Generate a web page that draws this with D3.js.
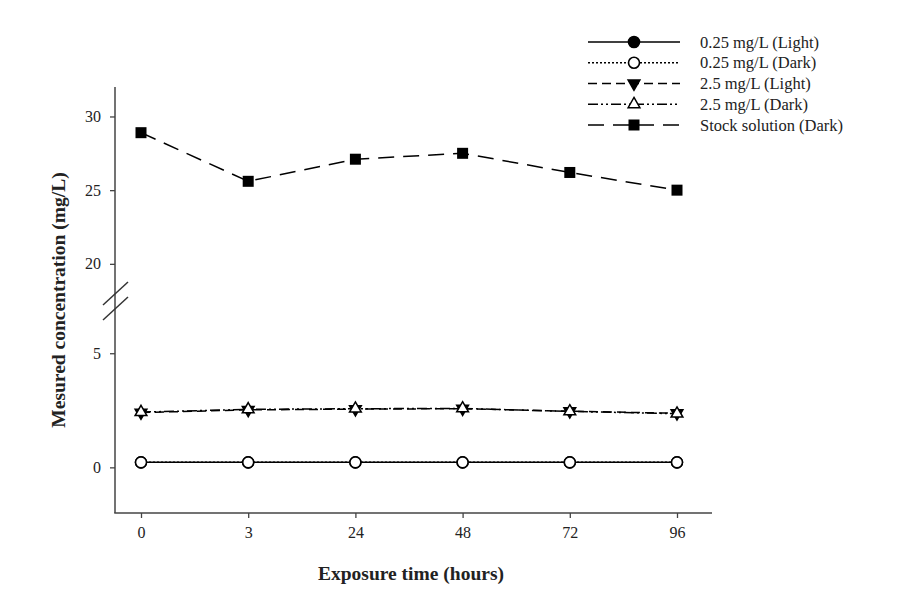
<!DOCTYPE html>
<html><head><meta charset="utf-8">
<script src="https://cdn.jsdelivr.net/npm/d3@7"></script>
<style>body{margin:0;background:#fff}svg{display:block}text{font-family:"Liberation Serif","Times New Roman",serif}</style>
</head><body><svg id="c" width="924" height="594"></svg>
<script>
const categories = ["0","3","24","48","72","96"];
const low_light = [0.22,0.22,0.22,0.22,0.22,0.22];
const low_dark = [0.22,0.22,0.22,0.22,0.22,0.22];
const high_light = [2.40,2.52,2.55,2.57,2.46,2.37];
const high_dark = [2.42,2.54,2.57,2.58,2.45,2.35];
const stock_dark = [28.9,25.6,27.1,27.5,26.2,25.0];
const seriesNames = ["0.25 mg/L (Light)","0.25 mg/L (Dark)","2.5 mg/L (Light)","2.5 mg/L (Dark)","Stock solution (Dark)"];
const upperTicks = [20,25,30];
const lowerTicks = [0,5];

const svg = d3.select("#c");
const x = d3.scalePoint().domain(categories).range([141,677]);
const yTop = d3.scaleLinear().domain([18.7,32]).range([283,87]);
const yBot = d3.scaleLinear().domain([-2,6.5]).range([513,319]);
const axisColor = "#444";

// axes
svg.append("line").attr("x1",115).attr("x2",115).attr("y1",87).attr("y2",513).attr("stroke",axisColor).attr("stroke-width",1.5);
svg.append("line").attr("x1",114.25).attr("x2",712).attr("y1",513).attr("y2",513).attr("stroke",axisColor).attr("stroke-width",1.5);
const gx = svg.append("g").attr("transform","translate(0,513)").call(d3.axisBottom(x).tickSize(5).tickSizeOuter(0).tickPadding(9));
gx.select(".domain").remove();
gx.selectAll(".tick line").attr("stroke",axisColor).attr("stroke-width",1.3);
gx.selectAll(".tick text").attr("font-size",16).attr("fill","#222").attr("font-family","Liberation Serif");

function yAx(scale, ticks){
  const g = svg.append("g").attr("transform","translate(115,0)").call(d3.axisLeft(scale).tickValues(ticks).tickSize(5).tickSizeOuter(0).tickPadding(9).tickFormat(d3.format("d")));
  g.select(".domain").remove();
  g.selectAll(".tick line").attr("stroke",axisColor).attr("stroke-width",1.3);
  g.selectAll(".tick text").attr("font-size",16).attr("fill","#222").attr("font-family","Liberation Serif");
}
yAx(yTop, upperTicks);
yAx(yBot, lowerTicks);

// break marks
[0,15].forEach(o=>{
  svg.append("line").attr("x1",103).attr("y1",305+o).attr("x2",128).attr("y2",282+o).attr("stroke","#333").attr("stroke-width",1.5);
});

// titles
svg.append("text").attr("x",411).attr("y",580).attr("text-anchor","middle").attr("font-size",19.5).attr("font-weight","bold").attr("fill","#222").text("Exposure time (hours)");
svg.append("text").attr("transform","translate(65,300) rotate(-90)").attr("text-anchor","middle").attr("font-size",19.5).attr("font-weight","bold").attr("fill","#222").text("Mesured concentration (mg/L)");

const series = [
  {name:seriesNames[0], vals:low_light, scale:yBot, dash:null, marker:"circle", fill:"#000"},
  {name:seriesNames[1], vals:low_dark, scale:yBot, dash:"2,2", marker:"circle", fill:"#fff"},
  {name:seriesNames[2], vals:high_light, scale:yBot, dash:"9,5", marker:"tridown", fill:"#000"},
  {name:seriesNames[3], vals:high_dark, scale:yBot, dash:"10,3,2,3,2,3", marker:"triup", fill:"#fff"},
  {name:seriesNames[4], vals:stock_dark, scale:yTop, dash:"16,9", marker:"square", fill:"#000"}
];

function drawMarker(g, type, cx, cy, fill){
  if(type==="circle"){
    g.append("circle").attr("cx",cx).attr("cy",cy).attr("r",5.5).attr("fill",fill).attr("stroke","#000").attr("stroke-width",1.6);
  } else if(type==="square"){
    g.append("rect").attr("x",cx-5.5).attr("y",cy-5.5).attr("width",11).attr("height",11).attr("fill",fill);
  } else {
    const sym = d3.symbol().type(d3.symbolTriangle).size(60)();
    const rot = type==="tridown" ? 180 : 0;
    g.append("path").attr("d",sym).attr("transform",`translate(${cx},${cy}) rotate(${rot})`).attr("fill",fill).attr("stroke","#000").attr("stroke-width",1.5);
  }
}

series.forEach(s=>{
  const line = d3.line().x((d,i)=>x(categories[i])).y(d=>s.scale(d));
  svg.append("path").datum(s.vals).attr("d",line).attr("fill","none").attr("stroke","#000").attr("stroke-width",1.5).attr("stroke-dasharray",s.dash);
  const g = svg.append("g");
  s.vals.forEach((v,i)=>drawMarker(g,s.marker,x(categories[i]),s.scale(v),s.fill));
});

// legend
const legY = d3.scalePoint().domain(seriesNames).range([42,125]);
series.forEach(s=>{
  const yy = legY(s.name);
  svg.append("line").attr("x1",588).attr("x2",680).attr("y1",yy).attr("y2",yy).attr("stroke","#000").attr("stroke-width",1.5).attr("stroke-dasharray",s.dash);
  drawMarker(svg.append("g"), s.marker, 634, yy, s.fill);
  svg.append("text").attr("x",700).attr("y",yy+5.5).attr("font-size",16.5).attr("fill","#222").text(s.name);
});
</script></body></html>
